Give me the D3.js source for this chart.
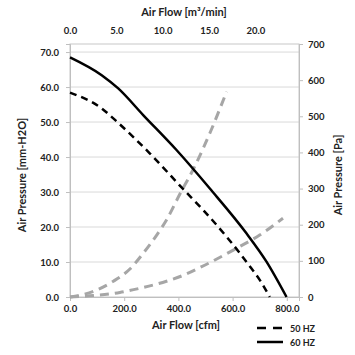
<!DOCTYPE html>
<html><head><meta charset="utf-8">
<script src="https://cdn.jsdelivr.net/npm/d3@7/dist/d3.min.js"></script>
<style>
body{margin:0;background:#fff;}
text{font-family:Lato,"Open Sans",sans-serif;font-weight:bold;fill:#222;}
</style></head>
<body><svg id="c" width="355" height="355"></svg>
<script>
// Air flow (cfm) vs air pressure (mm-H2O)
const hz60Flow = [0, 117, 178, 270, 393, 516, 651, 725, 799];
const hz60Pres = [68.5, 63.4, 59.6, 52.0, 42.0, 31.0, 18.2, 10.1, 0];
const hz50Flow = [0, 117, 166, 295, 418, 491, 578, 627, 664, 700, 737];
const hz50Pres = [58.4, 53.9, 50.6, 41.0, 30.8, 24.9, 17.2, 12.5, 8.7, 4.9, 0];
const sysAFlow = [0, 86, 160, 221, 270, 320, 356, 406, 455, 516, 578];
const sysAPres = [0, 1.6, 4.5, 8.0, 12.5, 17.7, 22.0, 29.5, 36.5, 46.8, 58.7];
const sysBFlow = [0, 86, 184, 258, 356, 418, 479, 614, 700, 786];
const sysBPres = [0, 0.4, 1.3, 2.5, 4.5, 6.2, 8.4, 13.9, 17.7, 22.5];
const cfmTicks = [0, 200, 400, 600, 800];
const m3Ticks = [0, 5, 10, 15, 20];
const mmTicks = [0, 10, 20, 30, 40, 50, 60, 70];
const paTicks = [0, 100, 200, 300, 400, 500, 600, 700];
const legendLabels = ["50 HZ", "60 HZ"];

const svg = d3.select("#c");
const L = 70, R = 299, T = 44, B = 297;
const x = d3.scaleLinear().domain([0, 845]).range([L, R]);
const xTop = d3.scaleLinear().domain([0, 24.7]).range([L, R]);
const y = d3.scaleLinear().domain([0, 72.3]).range([B, T]);
const yR = d3.scaleLinear().domain([0, 700]).range([B, T]);

// gridlines
svg.append("g").selectAll("line").data(mmTicks.slice(1)).join("line")
  .attr("x1", L).attr("x2", R).attr("y1", d => y(d)).attr("y2", d => y(d))
  .attr("stroke", "#d9d9d9").attr("stroke-width", 1);
// border
svg.append("rect").attr("x", L).attr("y", T).attr("width", R - L).attr("height", B - T)
  .attr("fill", "none").attr("stroke", "#c8c8c8").attr("stroke-width", 1);

function styleAxis(g) {
  g.select(".domain").attr("stroke", "#bfbfbf");
  g.selectAll(".tick line").attr("stroke", "#bfbfbf");
  g.selectAll(".tick text").style("font-size", "9.5px").attr("fill", "#222");
}
svg.append("g").attr("transform", `translate(0,${B})`)
  .call(d3.axisBottom(x).tickValues(cfmTicks).tickFormat(d3.format(".1f")).tickSize(4).tickPadding(4))
  .call(styleAxis);
svg.append("g").attr("transform", `translate(0,${T})`)
  .call(d3.axisTop(xTop).tickValues(m3Ticks).tickFormat(d3.format(".1f")).tickSize(0).tickPadding(10))
  .call(styleAxis).call(g => g.select(".domain").remove());
svg.append("g").attr("transform", `translate(${L},0)`)
  .call(d3.axisLeft(y).tickValues(mmTicks).tickFormat(d3.format(".1f")).tickSize(4).tickPadding(7))
  .call(styleAxis);
svg.append("g").attr("transform", `translate(${R},0)`)
  .call(d3.axisRight(yR).tickValues(paTicks).tickFormat(d3.format("d")).tickSize(4).tickPadding(5))
  .call(styleAxis);

// titles
svg.append("text").attr("x", 184).attr("y", 16).attr("text-anchor", "middle").style("font-size", "11px").text("Air Flow [m³/min]");
svg.append("text").attr("x", 186).attr("y", 329).attr("text-anchor", "middle").style("font-size", "11px").text("Air Flow [cfm]");
svg.append("text").attr("transform", "translate(26,175) rotate(-90)").attr("text-anchor", "middle").style("font-size", "11px").text("Air Pressure [mm-H2O]");
svg.append("text").attr("transform", "translate(342,175) rotate(-90)").attr("text-anchor", "middle").style("font-size", "11px").text("Air Pressure [Pa]");

const line = d3.line().x(d => x(d[0])).y(d => y(d[1])).curve(d3.curveMonotoneX);
const zip = (a, b) => a.map((v, i) => [v, b[i]]);

svg.append("path").attr("d", line(zip(sysAFlow, sysAPres))).attr("fill", "none")
  .attr("stroke", "#a6a6a6").attr("stroke-width", 3).attr("stroke-dasharray", "9,6");
svg.append("path").attr("d", line(zip(sysBFlow, sysBPres))).attr("fill", "none")
  .attr("stroke", "#a6a6a6").attr("stroke-width", 3).attr("stroke-dasharray", "9,6");
svg.append("path").attr("d", line(zip(hz50Flow, hz50Pres))).attr("fill", "none")
  .attr("stroke", "#000").attr("stroke-width", 2.5).attr("stroke-dasharray", "7,5");
svg.append("path").attr("d", line(zip(hz60Flow, hz60Pres))).attr("fill", "none")
  .attr("stroke", "#000").attr("stroke-width", 2.5);

// legend
const lg = svg.append("g");
legendLabels.forEach((lab, i) => {
  const yy = 328 + i * 14;
  lg.append("line").attr("x1", 257).attr("x2", 283).attr("y1", yy).attr("y2", yy)
    .attr("stroke", "#000").attr("stroke-width", 2.5).attr("stroke-dasharray", i === 0 ? "9,7" : null);
  lg.append("text").attr("x", 290).attr("y", yy + 3.5).style("font-size", "9px").text(lab);
});
</script></body></html>
